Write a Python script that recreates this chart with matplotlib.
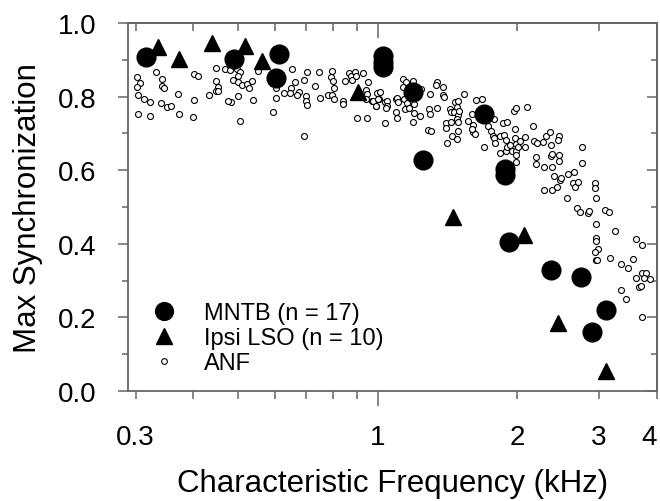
import matplotlib
matplotlib.use("Agg")
import matplotlib.pyplot as plt
from matplotlib.transforms import ScaledTranslation

plt.rcParams['font.family'] = ['Liberation Sans', 'DejaVu Sans']

# MNTB units (n = 17): CF (kHz), max synchronization
mntb_cf = [0.316, 0.490, 0.612, 0.603, 1.024, 1.024, 1.024, 1.19, 1.69, 1.25,
           1.88, 1.88, 1.92, 2.36, 2.74, 3.10, 2.90]
mntb_sync = [0.907, 0.901, 0.917, 0.850, 0.909, 0.895, 0.880, 0.812, 0.753, 0.628,
             0.603, 0.588, 0.406, 0.330, 0.310, 0.221, 0.161]

# ipsilateral LSO units (n = 10)
lso_cf = [0.336, 0.372, 0.438, 0.517, 0.563, 0.907, 1.45, 2.07, 2.45, 3.10]
lso_sync = [0.934, 0.902, 0.946, 0.938, 0.898, 0.813, 0.472, 0.424, 0.185, 0.055]

# auditory nerve fibres
anf_cf = [
    0.302, 0.307, 0.302, 0.303, 0.313, 0.323, 0.303, 0.323, 0.332, 0.342,
    0.342, 0.346, 0.340, 0.350, 0.358, 0.370, 0.373, 0.402, 0.410, 0.402,
    0.400, 0.432, 0.448, 0.448, 0.452, 0.448, 0.453, 0.467, 0.479, 0.497,
    0.504, 0.500, 0.488, 0.500, 0.508, 0.522, 0.527, 0.536, 0.551, 0.500,
    0.482, 0.476, 0.539, 0.503, 0.595, 0.602, 0.602, 0.626, 0.649, 0.646,
    0.653, 0.662, 0.676, 0.670, 0.694, 0.702, 0.700, 0.701, 0.702, 0.694,
    0.733, 0.747, 0.751, 0.780, 0.797, 0.793, 0.799, 0.804, 0.797, 0.805,
    0.842, 0.842, 0.848, 0.867, 0.875, 0.880, 0.894, 0.895, 0.930, 0.952,
    0.941, 0.945, 0.941, 0.900, 0.948, 0.971, 0.989, 1.000, 1.003,
    0.974, 0.994, 1.010, 1.002, 0.990, 1.035, 1.047, 1.047, 1.039, 1.035,
    1.092, 1.102, 1.104, 1.092, 1.102, 1.134, 1.149, 1.134, 1.139, 1.153,
    1.143, 1.166, 1.191, 1.207, 1.197, 1.197, 1.188, 1.232, 1.236, 1.294,
    1.288, 1.294, 1.284, 1.299, 1.338, 1.332, 1.342, 1.383, 1.379, 1.386,
    1.402, 1.402, 1.406, 1.429, 1.441, 1.436, 1.448, 1.460, 1.470, 1.485,
    1.482, 1.487, 1.482, 1.490, 1.485, 1.482, 1.497, 1.535, 1.568, 1.592,
    1.600, 1.605, 1.621, 1.592, 1.626, 1.673, 1.690, 1.725, 1.750, 1.767,
    1.784, 1.784, 1.790, 1.832, 1.830, 1.857, 1.869, 1.903, 1.887, 1.896,
    1.893, 1.925, 1.947, 1.963, 1.988, 1.975, 1.979, 1.982, 1.988, 1.988,
    1.988, 2.010, 2.027, 2.074, 2.077, 2.092, 2.164, 2.176, 2.202, 2.191,
    2.198, 2.276, 2.284, 2.305, 2.349, 2.357, 2.357, 2.372, 2.380, 2.460,
    2.452, 2.464, 2.460, 2.284, 2.380, 2.436, 2.468, 2.484, 2.552, 2.568,
    2.637, 2.655, 2.664, 2.700, 2.760, 2.755, 2.942, 2.942, 2.961, 2.682,
    2.726, 2.834, 2.848, 3.082, 3.148, 2.400,
    2.955, 3.239, 2.961, 2.951, 2.985, 2.946, 2.951, 2.976, 3.164, 3.604,
    3.715, 3.337, 3.466, 3.543, 3.708, 3.778, 3.598, 3.754, 3.860, 3.660,
    3.696, 3.349, 3.422, 3.715,
]
anf_sync = [
    0.854, 0.837, 0.826, 0.803, 0.793, 0.785, 0.754, 0.748, 0.866, 0.847,
    0.830, 0.823, 0.782, 0.773, 0.774, 0.806, 0.754, 0.861, 0.855, 0.791,
    0.744, 0.803, 0.877, 0.842, 0.827, 0.816, 0.816, 0.876, 0.872, 0.875,
    0.866, 0.857, 0.846, 0.841, 0.832, 0.833, 0.823, 0.843, 0.869, 0.801,
    0.786, 0.789, 0.791, 0.735, 0.759, 0.823, 0.796, 0.810, 0.823, 0.811,
    0.874, 0.841, 0.813, 0.804, 0.845, 0.866, 0.802, 0.787, 0.777, 0.692,
    0.828, 0.868, 0.795, 0.804, 0.870, 0.852, 0.843, 0.824, 0.804, 0.793,
    0.789, 0.779, 0.842, 0.865, 0.855, 0.844, 0.866, 0.857, 0.865, 0.839,
    0.819, 0.808, 0.793, 0.741, 0.743, 0.788, 0.774, 0.809, 0.793,
    0.789, 0.810, 0.813, 0.793, 0.774, 0.785, 0.789, 0.774, 0.768, 0.727,
    0.793, 0.796, 0.785, 0.757, 0.741, 0.847, 0.839, 0.825, 0.793, 0.783,
    0.766, 0.768, 0.842, 0.827, 0.780, 0.755, 0.730, 0.746, 0.821, 0.806,
    0.766, 0.753, 0.710, 0.707, 0.839, 0.832, 0.768, 0.825, 0.803, 0.800,
    0.727, 0.716, 0.674, 0.766, 0.759, 0.732, 0.694, 0.759, 0.785, 0.789,
    0.771, 0.750, 0.739, 0.730, 0.707, 0.685, 0.762, 0.807, 0.735, 0.753,
    0.723, 0.703, 0.698, 0.712, 0.792, 0.793, 0.664, 0.721, 0.706, 0.694,
    0.739, 0.687, 0.674, 0.648, 0.694, 0.728, 0.696, 0.730, 0.651, 0.662,
    0.681, 0.668, 0.651, 0.761, 0.768, 0.712, 0.688, 0.671, 0.653, 0.641,
    0.623, 0.662, 0.680, 0.689, 0.663, 0.772, 0.721, 0.680, 0.673, 0.636,
    0.617, 0.676, 0.609, 0.692, 0.703, 0.639, 0.668, 0.608, 0.644, 0.694,
    0.681, 0.641, 0.625, 0.545, 0.545, 0.555, 0.574, 0.578, 0.524, 0.589,
    0.565, 0.594, 0.553, 0.567, 0.662, 0.619, 0.564, 0.552, 0.524, 0.497,
    0.486, 0.484, 0.488, 0.491, 0.486, 0.585,
    0.454, 0.434, 0.415, 0.408, 0.386, 0.377, 0.356, 0.356, 0.361, 0.413,
    0.397, 0.345, 0.333, 0.360, 0.321, 0.322, 0.306, 0.306, 0.304, 0.282,
    0.284, 0.274, 0.250, 0.201,
]

axis_grey = "#666666"

fig = plt.figure(figsize=(6.6, 5.02), dpi=100)
ax = fig.add_axes([128 / 660, 1 - 392 / 502, 529 / 660, 368 / 502])

ax.plot(anf_cf, anf_sync, ls="none", marker="o", ms=4.3, mfc="white",
        mec="black", mew=0.8, label="ANF", zorder=2)
ax.plot(lso_cf, lso_sync, ls="none", marker="^", ms=11.5, color="black",
        label="Ipsi LSO (n = 10)", zorder=3)
ax.plot(mntb_cf, mntb_sync, ls="none", marker="o", ms=13.5, color="black",
        label="MNTB (n = 17)", zorder=4)

ax.set_xscale("log")
ax.set_xlim(0.289, 4.0)
ax.set_ylim(0, 1.0)

# bottom: long major tick at 1, short ticks elsewhere
minor_x = [0.3, 0.4, 0.5, 0.6, 0.7, 0.8, 0.9, 2, 3, 4]
minor_lab = ["0.3", "", "", "", "", "", "", "2", "3", "4"]
ax.set_xticks([1], ["1"])
ax.set_xticks(minor_x, minor_lab, minor=True)
ax.set_yticks([0, 0.2, 0.4, 0.6, 0.8, 1.0],
              ["0.0", "0.2", "0.4", "0.6", "0.8", "1.0"])
ax.set_yticks([0.1, 0.3, 0.5, 0.7, 0.9], minor=True)

ax.tick_params(axis="x", which="major", direction="out", length=11, width=1.1,
               color=axis_grey, labelsize=20, pad=13)
ax.tick_params(axis="x", which="minor", direction="out", length=5.5, width=1.1,
               color=axis_grey, labelsize=20, pad=18.5)
ax.tick_params(axis="y", which="major", direction="out", length=7, width=1.1,
               color=axis_grey, labelsize=20, pad=15.5)
ax.tick_params(axis="y", which="minor", direction="out", length=4.3, width=1.1,
               color=axis_grey)
for s in ax.spines.values():
    s.set_color(axis_grey)
    s.set_linewidth(1.3)

# "4" sits at the right edge; nudge it inward
last = ax.xaxis.get_minor_ticks()[-1].label1
last.set_transform(last.get_transform() + ScaledTranslation(-6 / 72, 0, fig.dpi_scale_trans))

# top / right ticks point inward
top = ax.secondary_xaxis("top")
top.set_xticks([1], [""])
top.set_xticks(minor_x, [""] * len(minor_x), minor=True)
top.tick_params(which="major", direction="in", length=11, width=1.1, color=axis_grey)
top.tick_params(which="minor", direction="in", length=5.5, width=1.1, color=axis_grey)
top.spines["top"].set_color(axis_grey)
top.spines["top"].set_linewidth(1.3)

right = ax.secondary_yaxis("right")
right.set_yticks([0, 0.2, 0.4, 0.6, 0.8, 1.0], [""] * 6)
right.set_yticks([0.1, 0.3, 0.5, 0.7, 0.9], [""] * 5, minor=True)
right.tick_params(which="major", direction="in", length=7, width=1.1, color=axis_grey)
right.tick_params(which="minor", direction="in", length=4.3, width=1.1, color=axis_grey)
right.spines["right"].set_color(axis_grey)
right.spines["right"].set_linewidth(1.3)

ax.set_xlabel("Characteristic Frequency (kHz)", fontsize=22.5, labelpad=13)
ax.set_ylabel("Max Synchronization", fontsize=22.5, labelpad=11)

h, l = ax.get_legend_handles_labels()
ax.legend(h[::-1], l[::-1], loc="lower left", bbox_to_anchor=(0.005, -0.005),
          frameon=False, fontsize=17, handlelength=1.2, handletextpad=1.1,
          labelspacing=0.12, borderpad=0.3, markerscale=0.95)

fig.savefig("out.png", dpi=100)
